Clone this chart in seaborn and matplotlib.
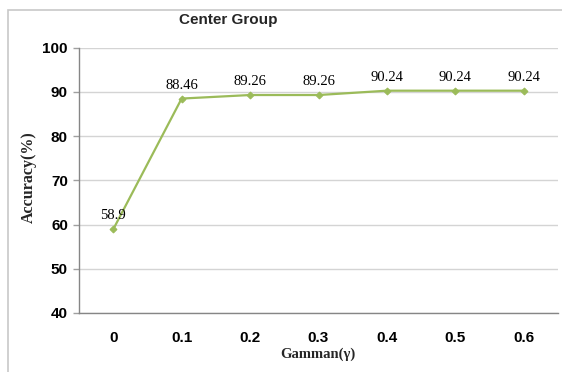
import matplotlib
matplotlib.use("Agg")
import matplotlib.pyplot as plt
import seaborn as sns
import pandas as pd
from matplotlib.patches import Rectangle

# Data
gammas = ["0", "0.1", "0.2", "0.3", "0.4", "0.5", "0.6"]
accuracy = [58.9, 88.46, 89.26, 89.26, 90.24, 90.24, 90.24]
value_labels = ["58.9", "88.46", "89.26", "89.26", "90.24", "90.24", "90.24"]
y_ticks = [40, 50, 60, 70, 80, 90, 100]

sns.set_theme(style="white")
plt.rcParams["font.family"] = ["Liberation Sans", "DejaVu Sans"]

W, H = 562, 372
fig = plt.figure(figsize=(W / 100, H / 100), dpi=100)

# chart frame
fig.patches.append(Rectangle((8 / W, -0.05), 1.2, (H - 10) / H + 0.05,
                             transform=fig.transFigure, fill=False,
                             edgecolor="#C8C8C8", linewidth=1.2))

ax = fig.add_axes([79 / W, (H - 313) / H, (558 - 79) / W, (313 - 47.5) / H])

df = pd.DataFrame({"gamma": gammas, "acc": accuracy})
sns.lineplot(data=df, x="gamma", y="acc", ax=ax, color="#9BBB59",
             linewidth=1.6, marker="D", markersize=3.5,
             markeredgecolor="#9BBB59", sort=False)

ax.set_xlim(-0.5, len(gammas) - 0.5)
ax.set_ylim(40, 100)
ax.set_yticks(y_ticks)
ax.set_yticklabels([str(t) for t in y_ticks], fontsize=11, fontweight="bold")
ax.set_xticks(range(len(gammas)))
ax.set_xticklabels(gammas, fontsize=11, fontweight="bold")
ax.yaxis.grid(True, color="#D4D4D4", linewidth=1.0)
ax.set_axisbelow(True)

for s in ["top", "right"]:
    ax.spines[s].set_visible(False)
for s in ["left", "bottom"]:
    ax.spines[s].set_color("#868686")
    ax.spines[s].set_linewidth(1.0)

ax.tick_params(axis="y", which="both", left=True, length=4, width=1,
               color="#A0A0A0", pad=4, labelcolor="black")
ax.tick_params(axis="x", which="both", bottom=False, pad=7, labelcolor="black")

ax.set_xlabel("")
ax.set_ylabel("")

for i, (v, lab) in enumerate(zip(accuracy, value_labels)):
    ax.annotate(lab, (i, v), xytext=(0, 5), textcoords="offset points",
                ha="center", va="bottom", fontsize=10.5,
                family="Liberation Serif", color="black")

fig.text(228 / W, 1 - 20 / H, "Center Group", ha="center", va="center",
         fontsize=11, fontweight="bold")
fig.text(29 / W, 1 - 177 / H, "Accuracy(%)", ha="center", va="center",
         rotation=90, fontsize=11.5, fontweight="bold",
         family="Liberation Serif")
fig.text(318 / W, 1 - 354 / H, "Gamman(γ)", ha="center", va="center",
         fontsize=10.5, fontweight="bold", family="Liberation Serif")

fig.savefig("out.png", dpi=100, facecolor="white")
